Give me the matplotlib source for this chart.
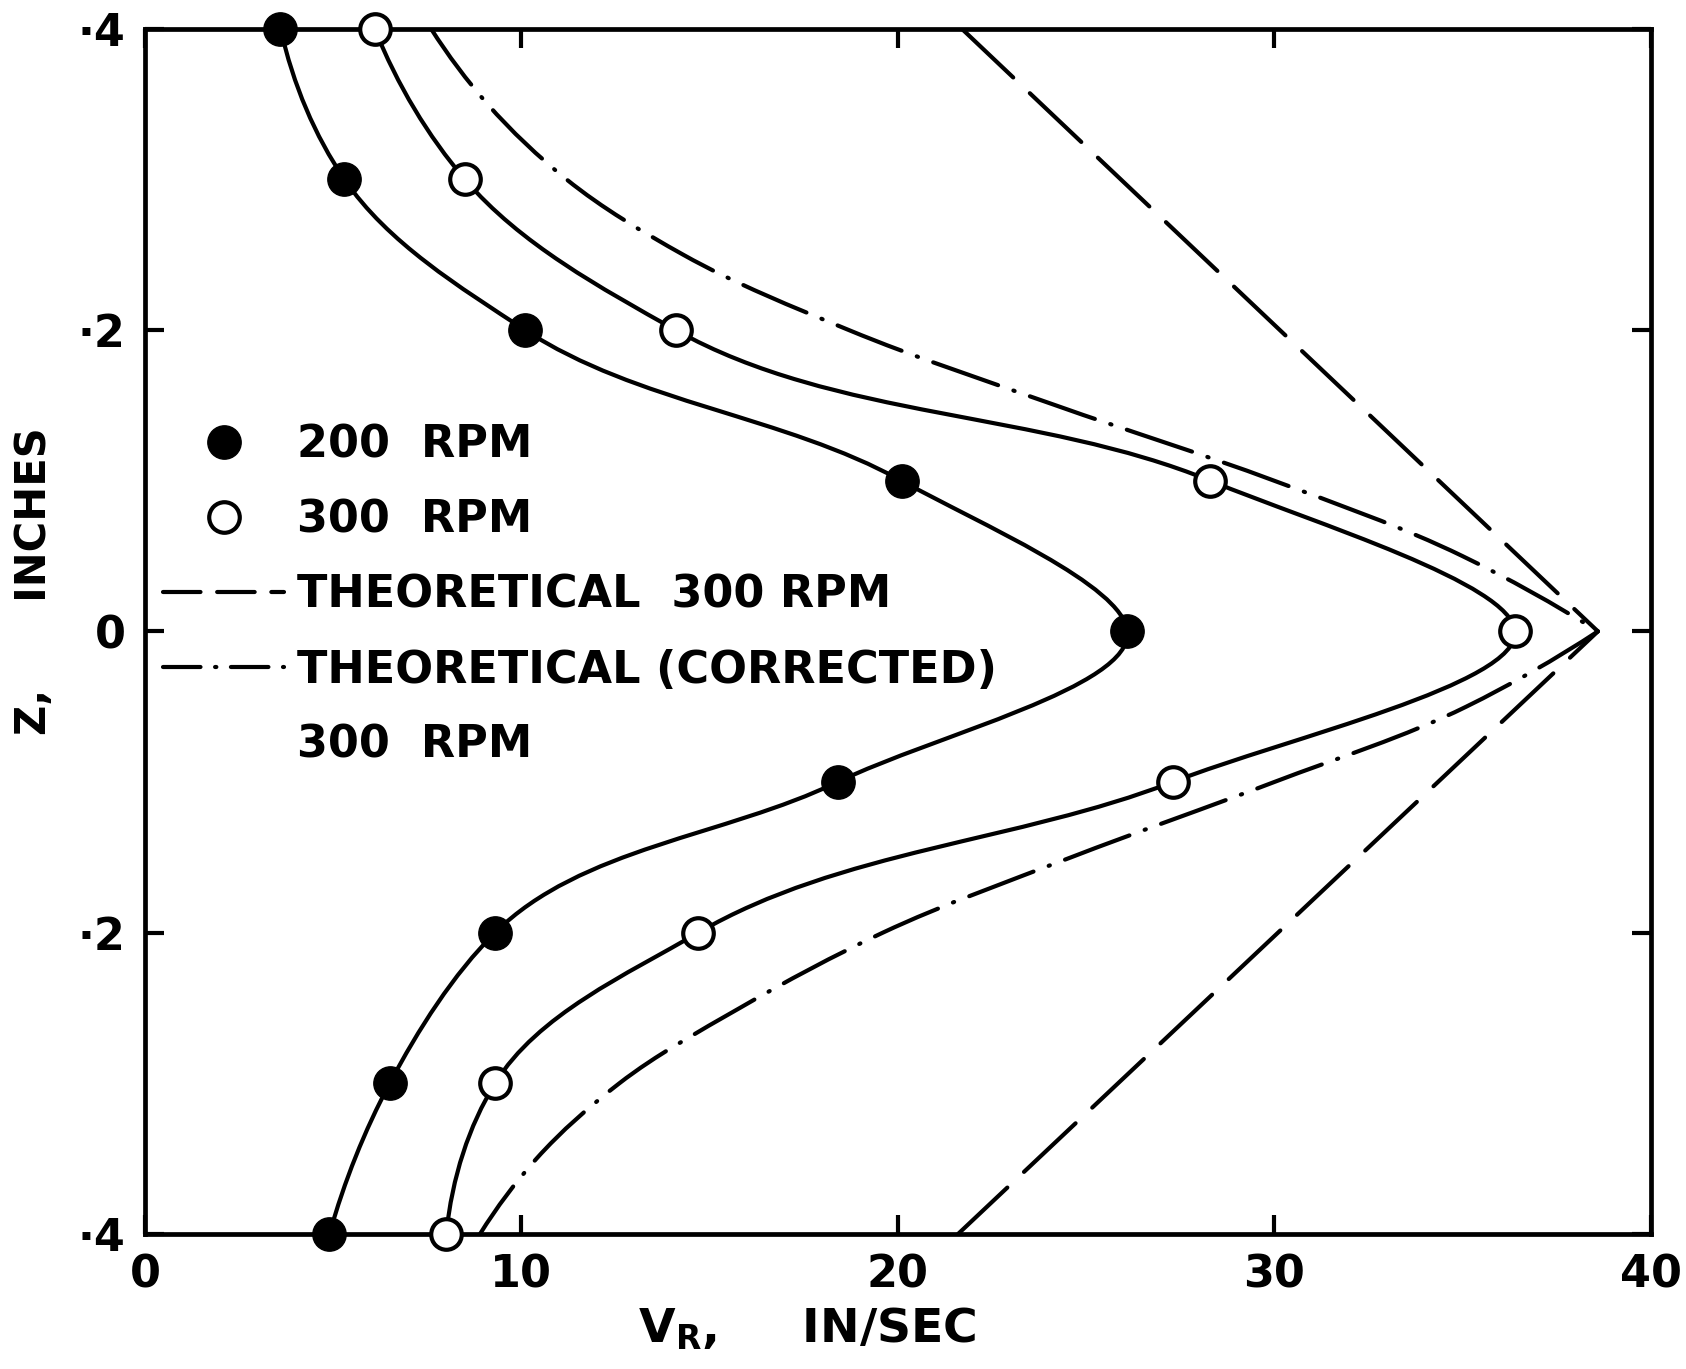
import numpy as np
import matplotlib
matplotlib.use("Agg")
import matplotlib.pyplot as plt
from matplotlib.path import Path
from matplotlib.patches import PathPatch
from matplotlib.lines import Line2D

plt.rcParams['font.family'] = ['DejaVu Sans']
plt.rcParams['font.weight'] = 'bold'
plt.rcParams['mathtext.default'] = 'regular'

# measured radial velocity profiles, z in inches, V_R in in/sec
z_meas = [0.4, 0.3, 0.2, 0.1, 0.0, -0.1, -0.2, -0.3, -0.4]
vr_200 = [3.6, 5.3, 10.1, 20.1, 26.1, 18.4, 9.3, 6.5, 4.9]
vr_300 = [6.1, 8.5, 14.1, 28.3, 36.4, 27.3, 14.7, 9.3, 8.0]

# theory, 300 rpm
z_theory = [0.4, 0.0, -0.4]
vr_theory = [21.7, 38.6, 21.6]

# theory (corrected), 300 rpm, upper and lower branch meeting at z = 0
z_corr_up = [0.4, 0.35, 0.3, 0.25, 0.2, 0.15, 0.1, 0.05, 0.0]
vr_corr_up = [7.6, 9.1, 11.2, 14.3, 18.7, 24.2, 30.0, 35.0, 38.6]
z_corr_lo = [0.0, -0.05, -0.1, -0.15, -0.2, -0.25, -0.3, -0.35, -0.4]
vr_corr_lo = [38.6, 35.1, 30.0, 24.6, 19.6, 15.8, 12.6, 10.4, 8.9]

x_ticks = [0, 10, 20, 30, 40]
y_ticks = [-0.4, -0.2, 0.0, 0.2, 0.4]
y_ticklabels = ['·4', '·2', '0', '·2', '·4']

LW = 3.0
FS = 32


def smooth_path(xs, ys, sx=35.0, sy=1401.0):
    # cubic bezier through the points; chord-length spacing measured on
    # the page (sx, sy = px per data unit) so uneven gaps don't kink
    p = np.column_stack([xs, ys]).astype(float)
    q = p * [sx, sy]
    d = np.hypot(*np.diff(q, axis=0).T)
    n = len(p)
    m = np.zeros_like(p)
    for i in range(1, n - 1):
        a = (p[i] - p[i - 1]) / d[i - 1]
        b = (p[i + 1] - p[i]) / d[i]
        m[i] = (a * d[i] + b * d[i - 1]) / (d[i - 1] + d[i])
    m[0] = 2 * (p[1] - p[0]) / d[0] - m[1]
    m[-1] = 2 * (p[-1] - p[-2]) / d[-1] - m[-2]
    verts = [p[0]]
    codes = [Path.MOVETO]
    for i in range(n - 1):
        verts += [p[i] + m[i] * d[i] / 3, p[i + 1] - m[i + 1] * d[i] / 3, p[i + 1]]
        codes += [Path.CURVE4] * 3
    return Path(verts, codes)


fig = plt.figure(figsize=(16.86, 13.69), dpi=100)
ax = fig.add_axes([0.086, 0.0986, 0.893, 0.8804])

dashed = (0, (17, 5.5))
dashdot = (0, (16.5, 3.9, 0.3, 3.9))

for vr in (vr_200, vr_300):
    ax.add_patch(PathPatch(smooth_path(vr, z_meas), fill=False, lw=LW,
                           edgecolor='black', capstyle='round', zorder=3))

for vr, zz in ((vr_corr_up, z_corr_up), (vr_corr_lo, z_corr_lo)):
    ax.add_patch(PathPatch(smooth_path(vr, zz), fill=False, lw=LW,
                           edgecolor='black', linestyle=dashdot,
                           capstyle='round', zorder=3))

ax.plot(vr_theory, z_theory, color='black', lw=LW, linestyle=dashed,
        dash_capstyle='round', zorder=3)

ax.plot(vr_200, z_meas, linestyle='none', marker='o', ms=24,
        mfc='black', mec='black', clip_on=False, zorder=5)
ax.plot(vr_300, z_meas, linestyle='none', marker='o', ms=22,
        mfc='white', mec='black', mew=3, clip_on=False, zorder=5)

ax.set_xlim(0, 40)
ax.set_ylim(-0.4, 0.4)
ax.set_xticks(x_ticks)
ax.set_yticks(y_ticks)
ax.set_yticklabels(y_ticklabels)
ax.tick_params(direction='in', length=14, width=3, top=True, right=True,
               labelsize=FS, pad=14)
for s in ax.spines.values():
    s.set_linewidth(3.4)

ax.set_xlabel('$V_R$,     IN/SEC', fontsize=34, fontweight='bold')
ax.xaxis.set_label_coords(0.44, -0.06)
ax.set_ylabel('Z,      INCHES', fontsize=30, fontweight='bold')
ax.yaxis.set_label_coords(-0.06, 0.542)

handles = [
    Line2D([], [], linestyle='none', marker='o', ms=24, mfc='black', mec='black'),
    Line2D([], [], linestyle='none', marker='o', ms=22, mfc='white', mec='black', mew=3),
    Line2D([], [], color='black', lw=LW, linestyle=(0, (9, 4)), dash_capstyle='round'),
    Line2D([], [], color='black', lw=LW, linestyle=(0, (9, 3.5, 0.3, 3.5)), dash_capstyle='round'),
    Line2D([], [], linestyle='none'),
]
labels = ['200  RPM', '300  RPM', 'THEORETICAL  300 RPM',
          'THEORETICAL (CORRECTED)', '300  RPM']
ax.legend(handles, labels, loc='center left', bbox_to_anchor=(0.012, 0.530),
          frameon=False, borderpad=0, borderaxespad=0, handlelength=2.73,
          handletextpad=0.29, labelspacing=0.72, fontsize=FS)

fig.savefig('out.png', dpi=100)
